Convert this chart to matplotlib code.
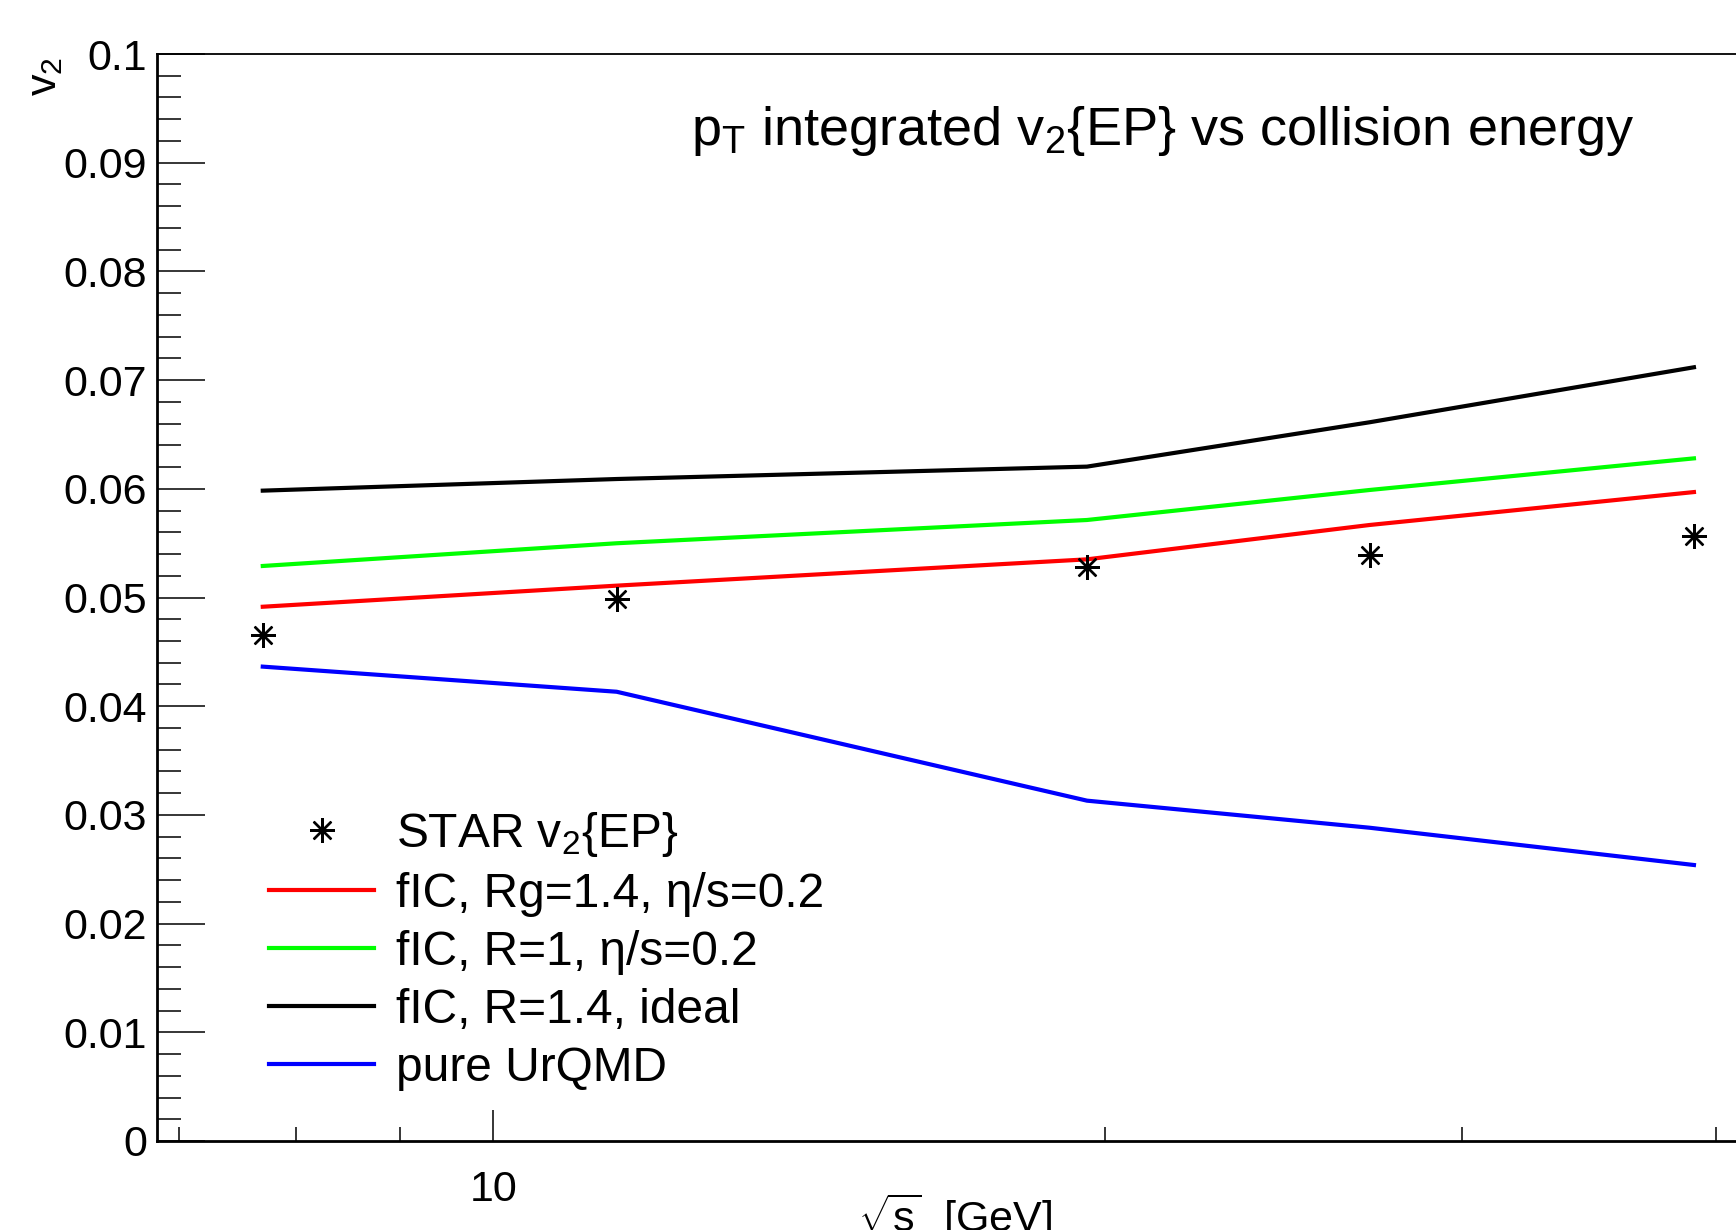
import matplotlib
matplotlib.use("Agg")
import matplotlib.pyplot as plt
from matplotlib.ticker import FixedLocator, NullFormatter, FuncFormatter

plt.rcParams['font.family'] = ['Liberation Sans', 'DejaVu Sans']
plt.rcParams['mathtext.fontset'] = 'custom'
plt.rcParams['mathtext.rm'] = 'Liberation Sans'
plt.rcParams['mathtext.it'] = 'Liberation Sans'
plt.rcParams['mathtext.bf'] = 'Liberation Sans'

# ---- data ----
energy = [7.7, 11.5, 19.6, 27, 39]
star_v2 = [0.04655, 0.04983, 0.05284, 0.05391, 0.05566]
fic_rg14_eta02 = [0.04915, 0.05109, 0.05351, 0.05667, 0.0597]
fic_r1_eta02 = [0.0529, 0.05499, 0.05713, 0.05989, 0.0628]
fic_r14_ideal = [0.05983, 0.0609, 0.06204, 0.06612, 0.07118]
pure_urqmd = [0.04364, 0.04133, 0.03131, 0.02882, 0.02539]

labels = ["STAR v$_{2}${EP}",
          "fIC, Rg=1.4, η/s=0.2",
          "fIC, R=1, η/s=0.2",
          "fIC, R=1.4, ideal",
          "pure UrQMD"]
colors = ["black", "#ff0000", "#00ff00", "black", "#0000ff"]

x_major = [10]
x_minor = [7, 8, 9, 20, 30, 40]
xlim = (6.83, 41.7)
ylim = (0.0, 0.1)

W, H = 1736, 1230
fig = plt.figure(figsize=(W / 100, H / 100), dpi=100)
fig.patch.set_facecolor('white')

left, right, top, bottom = 157, 1753, 54, 1141
ax = fig.add_axes([left / W, 1 - bottom / H, (right - left) / W, (bottom - top) / H])
ax.set_xscale('log')
ax.set_xlim(*xlim)
ax.set_ylim(*ylim)

lw = 3.0
h1, = ax.plot(energy, star_v2, linestyle='none', marker=(8, 2, 0), markersize=18,
              markeredgewidth=1.7, color=colors[0], zorder=5)
h2, = ax.plot(energy, fic_rg14_eta02, color=colors[1], lw=lw)
h3, = ax.plot(energy, fic_r1_eta02, color=colors[2], lw=lw)
h4, = ax.plot(energy, fic_r14_ideal, color=colors[3], lw=lw)
h5, = ax.plot(energy, pure_urqmd, color=colors[4], lw=lw)

# axes styling
for s in ['left', 'bottom']:
    ax.spines[s].set_linewidth(2.0)
ax.spines['top'].set_linewidth(1.3)
ax.spines['right'].set_linewidth(1.3)

ax.yaxis.set_major_locator(FixedLocator([i / 100 for i in range(11)]))
ax.yaxis.set_minor_locator(FixedLocator([i / 500 for i in range(51)]))
ax.yaxis.set_major_formatter(FuncFormatter(lambda v, p: '%g' % round(v, 3)))
ax.xaxis.set_major_locator(FixedLocator(x_major))
ax.xaxis.set_minor_locator(FixedLocator(x_minor))
ax.xaxis.set_major_formatter(FuncFormatter(lambda v, p: '%g' % v))
ax.xaxis.set_minor_formatter(NullFormatter())

ax.tick_params(axis='y', which='major', direction='in', length=34.5, width=1.1,
               labelsize=31, pad=7, right=False)
ax.tick_params(axis='y', which='minor', direction='in', length=17, width=1.1, right=False)
ax.tick_params(axis='x', which='major', direction='in', length=22, width=1.1,
               labelsize=31, pad=21, top=False)
ax.tick_params(axis='x', which='minor', direction='in', length=10, width=1.1, top=False)

# title-like text inside the frame
fig.text(691 / W, 1 - 145 / H, "p$_{T}$ integrated v$_{2}${EP} vs collision energy",
         fontsize=39, ha='left', va='baseline')

# axis titles
fig.text(955 / W, 1 - 1232 / H, r"$\sqrt{\mathrm{s}}$  [GeV]", fontsize=31,
         ha='center', va='baseline')
fig.text(45 / W, 1 - 57 / H, "v$_{2}$", fontsize=31, rotation=90,
         ha='center', va='top')

leg = ax.legend([h1, h2, h3, h4, h5], labels, loc='upper left',
                bbox_to_anchor=(269 / W, 1 - 810 / H), bbox_transform=fig.transFigure,
                frameon=False, fontsize=34.5, handlelength=2.2, handletextpad=0.45,
                labelspacing=0.27, borderpad=0, borderaxespad=0)

fig.savefig("out.png", dpi=100)
